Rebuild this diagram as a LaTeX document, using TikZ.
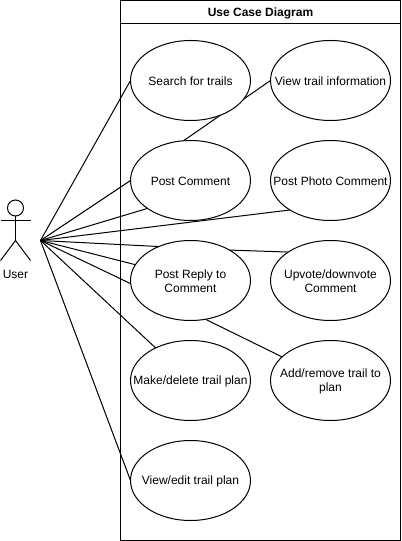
\documentclass[tikz,border=0pt]{standalone}
\usepackage{fontspec}
\setmainfont{Liberation Sans}
\usetikzlibrary{shapes.geometric,backgrounds}
\tikzset{
  casetext/.style={font=\fontsize{9}{10.5}\selectfont, align=center, inner sep=0pt, yshift=-0.6pt},
  usecase/.style={ellipse, draw, fill=white, minimum width=90pt, minimum height=60pt,
    inner sep=0pt, outer sep=0pt, label={[casetext]center:#1}},
  link/.style={draw, line width=0.75pt}
}
\begin{document}
\begin{tikzpicture}[x=0.75pt, y=-0.75pt, line width=0.75pt]
        \useasboundingbox (0, 0) rectangle (401, 541);

        \draw (120.5, 0.5) rectangle (400.5, 540.5);
        \draw (120.5, 23.5)--(400.5, 23.5);
        \node [casetext] (title) at (260.5, 12.5) {\bfseries Use Case Diagram};

        \draw (15.5, 208) circle [radius=6pt];
        \draw (15.5, 216)--(15.5, 240.5);
        \draw (0.5, 220.5)--(30.5, 220.5);
        \draw (0.5, 260.5)--(15.5, 240.5)--(30.5, 260.5);
        \node [casetext] (userlabel) at (15.5, 273.5) {User};
        \coordinate (user) at (40.5, 240.5);

        \node [usecase={Search for trails}] (search) at (190.5, 80.5) {};
        \node [usecase={View trail information}] (info) at (330.5, 80.5) {};
        \node [usecase={Post Comment}] (comment) at (190.5, 180.5) {};
        \node [usecase={Post Photo Comment}] (photo) at (330.5, 180.5) {};
        \node [usecase={Post Reply to\\Comment}] (reply) at (190.5, 280.5) {};
        \node [usecase={Upvote/downvote\\Comment}] (upvote) at (330.5, 280.5) {};
        \node [usecase={Make/delete trail plan}] (make) at (190.5, 380.5) {};
        \node [usecase={Add/remove trail to\\plan}] (add) at (330.5, 380.5) {};
        \node [usecase={View/edit trail plan}] (edit) at (190.5, 480.5) {};

        \begin{scope}[on background layer]
          \draw [link] (user)--(search.west);
          \draw [link] (user)--(comment.west);
          \draw [link] (user)--(comment.213);
          \draw [link] (user)--(photo.216);
          \draw [link] (user)--(reply.133);
          \draw [link] (user)--(reply.164);
          \draw [link] (user)--(reply.183);
          \draw [link] (user)--(make.137);
          \draw [link] (user)--(edit.west);

          \draw [link] (comment.100)--(info.west);
          \draw [link] (reply.38)--(upvote.146);
          \draw [link] (reply.291)--(add.154);
        \end{scope}
      \end{tikzpicture}
\end{document}
